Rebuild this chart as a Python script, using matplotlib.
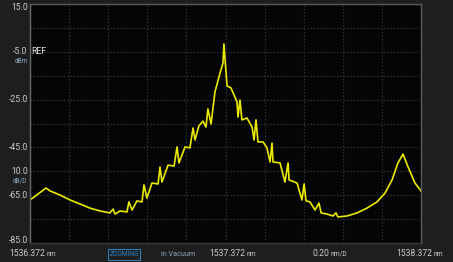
import matplotlib
matplotlib.use("Agg")
import matplotlib.pyplot as plt
import numpy as np

# ---- data (wavelength offset from start in nm, level in dBm) ----
wl_start = 1536.372
wl_span = 2.0
y_top = 15.0
y_bottom = -85.0

wl_offset = [0.000, 0.041, 0.082, 0.102, 0.153, 0.205, 0.256, 0.307, 0.358, 0.409,
             0.425, 0.435, 0.460, 0.496, 0.506, 0.522, 0.547, 0.573, 0.583, 0.598,
             0.624, 0.655, 0.665, 0.675, 0.706, 0.737, 0.752, 0.762, 0.793, 0.818,
             0.834, 0.844, 0.864, 0.885, 0.900, 0.910, 0.926, 0.946, 0.972, 0.987,
             0.992, 0.997, 1.008, 1.028, 1.059, 1.064, 1.074, 1.084, 1.110, 1.136,
             1.146, 1.156, 1.166, 1.192, 1.212, 1.228, 1.238, 1.243, 1.279, 1.304,
             1.320, 1.325, 1.366, 1.391, 1.402, 1.412, 1.432, 1.458, 1.478, 1.489,
             1.519, 1.550, 1.565, 1.575, 1.621, 1.673, 1.724, 1.775, 1.816, 1.852,
             1.882, 1.908, 1.934, 1.969, 2.000]
level_dbm = [-67.0, -64.5, -62.0, -63.2, -64.9, -67.0, -68.7, -70.4, -71.6, -72.4,
             -70.8, -72.9, -71.6, -72.0, -67.8, -71.2, -67.4, -67.8, -60.7, -66.2,
             -59.9, -60.3, -53.2, -59.5, -52.4, -52.8, -44.8, -51.5, -44.8, -45.2,
             -36.9, -41.9, -36.0, -34.0, -36.5, -28.9, -35.2, -21.8, -13.9, -9.7,
             -1.7, -7.6, -19.3, -20.1, -26.0, -32.3, -25.2, -33.5, -32.7, -36.5,
             -41.9, -33.5, -42.7, -42.7, -45.2, -51.1, -43.2, -51.1, -51.5, -59.5,
             -51.5, -58.6, -59.9, -67.0, -60.3, -67.4, -67.8, -71.2, -68.3, -72.4,
             -72.9, -73.7, -72.4, -74.1, -73.7, -72.4, -70.4, -67.8, -64.1, -58.6,
             -51.5, -47.8, -53.2, -59.9, -63.2]

y_tick_values = [15.0, -5.0, -25.0, -45.0, -65.0, -85.0]
y_tick_labels = ["15.0", "-5.0", "-25.0", "-45.0", "-65.0", "-85.0"]

FONT = ["Roboto", "DejaVu Sans"]
plt.rcParams["font.family"] = FONT

W, H = 453, 262
fig = plt.figure(figsize=(W / 100, H / 100), dpi=100, facecolor="#1e1e1e")
L, R, T, B = 30, 421, 4, 243
ax = fig.add_axes([L / W, 1 - B / H, (R - L) / W, (B - T) / H], facecolor="#050505")

wl = [wl_start + v for v in wl_offset]
ax.plot(wl, level_dbm, color="#eaea00", lw=1.2, solid_joinstyle="round")

ax.set_xlim(wl_start, wl_start + wl_span)
ax.set_ylim(y_bottom, y_top)
ax.set_xticks(np.linspace(wl_start, wl_start + wl_span, 11))
ax.set_yticks(np.linspace(y_bottom, y_top, 11))
ax.grid(True, color="#383838", linestyle=(0, (1.2, 1.8)), linewidth=0.8)
ax.tick_params(length=0, labelleft=False, labelbottom=False)
for side, c in [("left", "#6a6a6a"), ("right", "#5a5a5a"), ("top", "#5a5a5a"), ("bottom", "#3a3a3a")]:
    ax.spines[side].set_color(c)
    ax.spines[side].set_linewidth(1.0)

lab_col = "#cccccc"
span = y_top - y_bottom
for v, s in zip(y_tick_values, y_tick_labels):
    pos = (v - y_bottom) / span
    pos = min(max(pos, 0.012), 0.985)
    ax.text(-0.006, pos, s, transform=ax.transAxes,
            ha="right", va="center", color=lab_col, fontsize=6.2)
ax.text(0.004, (-5.0 - y_bottom) / span, "REF", transform=ax.transAxes,
        ha="left", va="center", color="#e6e6e6", fontsize=6.2)
ax.text(-0.006, (-9.0 - y_bottom) / span, "dBm", transform=ax.transAxes,
        ha="right", va="center", color="#8aa4c0", fontsize=4.7)
ax.text(-0.006, (-55.0 - y_bottom) / span, "10.0", transform=ax.transAxes,
        ha="right", va="center", color=lab_col, fontsize=6.2)
ax.text(-0.006, (-59.0 - y_bottom) / span, "dB/D", transform=ax.transAxes,
        ha="right", va="center", color="#8aa4c0", fontsize=4.7)

# bottom information line
yb = 1 - 256 / H
def num_unit(x_num_right, num, unit):
    fig.text(x_num_right / W, yb, num, ha="right", va="baseline", color=lab_col, fontsize=6.2)
    fig.text((x_num_right + 1.5) / W, yb, unit, ha="left", va="baseline", color=lab_col, fontsize=4.8)

num_unit(45, "1536.372", "nm")
num_unit(245, "1537.372", "nm")
num_unit(329, "0.20", "nm/D")
num_unit(432, "1538.372", "nm")

fig.text(124 / W, yb, "ZOOMING", ha="center", va="baseline", color="#2f86c8", fontsize=4.8,
         bbox=dict(boxstyle="square,pad=0.25", fc="none", ec="#2f86c8", lw=0.7))
fig.text(178 / W, yb, "in Vacuum", ha="center", va="baseline", color="#8aa4c0", fontsize=5.2)

fig.savefig("out.png", dpi=100, facecolor=fig.get_facecolor())
